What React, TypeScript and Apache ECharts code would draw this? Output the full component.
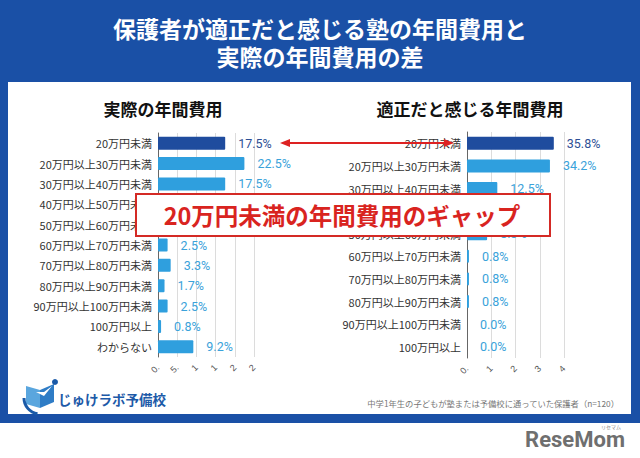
import React, { useEffect, useRef } from "react";
import * as echarts from "echarts";

const categoriesActual = [
  "20万円未満",
  "20万円以上30万円未満",
  "30万円以上40万円未満",
  "40万円以上50万円未満",
  "50万円以上60万円未満",
  "60万円以上70万円未満",
  "70万円以上80万円未満",
  "80万円以上90万円未満",
  "90万円以上100万円未満",
  "100万円以上",
  "わからない",
];
const valuesActual = [17.5, 22.5, 17.5, 12.5, 10.0, 2.5, 3.3, 1.7, 2.5, 0.8, 9.2];

const categoriesIdeal = [
  "20万円未満",
  "20万円以上30万円未満",
  "30万円以上40万円未満",
  "40万円以上50万円未満",
  "50万円以上60万円未満",
  "60万円以上70万円未満",
  "70万円以上80万円未満",
  "80万円以上90万円未満",
  "90万円以上100万円未満",
  "100万円以上",
];
const valuesIdeal = [35.8, 34.2, 12.5, 6.7, 8.3, 0.8, 0.8, 0.8, 0.0, 0.0];

const tickLabelsActual = ["0.", "5.", "1", "1", "2", "2"];
const tickLabelsIdeal = ["0.", "1", "2", "3", "4"];

const titleLines = ["保護者が適正だと感じる塾の年間費用と", "実際の年間費用の差"];
const subtitleActual = "実際の年間費用";
const subtitleIdeal = "適正だと感じる年間費用";
const bannerText = "20万円未満の年間費用のギャップ";
const footnote = "中学1年生の子どもが塾または予備校に通っていた保護者（n=120）";
const logoText = "じゅけラボ予備校";

const JP = '"Noto Sans CJK JP", "Noto Sans", sans-serif';
const NUM = 'Roboto, "Noto Sans", sans-serif';
const DARK = "#1f4c9e";
const LIGHT = "#2f9fde";
const DARK_LABEL = "#2d4f95";
const LIGHT_LABEL = "#3aa2da";
const RED = "#dd2222";
const FRAME = "#1a50a6";

function barData(values: number[]) {
  return values.map((v, i) => ({
    value: v,
    itemStyle: { color: i === 0 ? DARK : LIGHT },
    label: { color: i === 0 ? DARK_LABEL : LIGHT_LABEL },
  }));
}

export default function App() {
  const ref = useRef<HTMLDivElement>(null);
  useEffect(() => {
    document.body.style.margin = "0";
    if (!ref.current) return;
    const chart = echarts.init(ref.current, null, { renderer: "svg" });
    const yAxisCommon = {
      type: "category" as const,
      inverse: true,
      axisTick: { show: false },
      axisLine: { show: true, lineStyle: { color: "#666", width: 1 } },
      axisLabel: { color: "#333", fontSize: 11, fontFamily: JP, margin: 6 },
    };
    const xAxisCommon = {
      type: "value" as const,
      min: 0,
      axisLine: { show: false },
      axisTick: { show: false },
      splitLine: { show: true, lineStyle: { color: "#dcdcdc", width: 1 } },
    };
    const labelCommon = {
      show: true,
      position: "right" as const,
      distance: 13,
      fontSize: 12.5,
      fontFamily: NUM,
      formatter: (p: any) => Number(p.value).toFixed(1) + "%",
    };
    const option: any = {
      animation: false,
      backgroundColor: "#ffffff",
      grid: [
        { left: 158, top: 133, width: 96, height: 224 },
        { left: 467, top: 132, width: 97, height: 226 },
      ],
      xAxis: [
        {
          ...xAxisCommon,
          gridIndex: 0,
          max: 25,
          interval: 5,
          axisLabel: {
            rotate: 45,
            fontSize: 9,
            color: "#555",
            margin: 9,
            formatter: (_v: number, i: number) => tickLabelsActual[i] ?? "",
          },
        },
        {
          ...xAxisCommon,
          gridIndex: 1,
          max: 40,
          interval: 10,
          axisLabel: {
            rotate: 45,
            fontSize: 9,
            color: "#555",
            margin: 9,
            formatter: (_v: number, i: number) => tickLabelsIdeal[i] ?? "",
          },
        },
      ],
      yAxis: [
        { ...yAxisCommon, gridIndex: 0, data: categoriesActual },
        { ...yAxisCommon, gridIndex: 1, data: categoriesIdeal },
      ],
      series: [
        {
          type: "bar",
          xAxisIndex: 0,
          yAxisIndex: 0,
          barWidth: 13,
          data: barData(valuesActual),
          label: labelCommon,
          itemStyle: { borderRadius: 1 },
        },
        {
          type: "bar",
          xAxisIndex: 1,
          yAxisIndex: 1,
          barWidth: 13,
          data: barData(valuesIdeal),
          label: labelCommon,
          itemStyle: { borderRadius: 1 },
        },
      ],
      graphic: [
        { type: "rect", z: -10, shape: { x: 0, y: 0, width: 640, height: 423 }, style: { fill: FRAME } },
        { type: "rect", z: -9, shape: { x: 8, y: 82, width: 623, height: 332 }, style: { fill: "#ffffff" } },
        {
          type: "text", x: 320, y: 28, z: 10,
          style: { text: titleLines[0], fill: "#ffffff", font: `bold 23px ${JP}`, textAlign: "center", textVerticalAlign: "middle" },
        },
        {
          type: "text", x: 320, y: 56, z: 10,
          style: { text: titleLines[1], fill: "#ffffff", font: `bold 23px ${JP}`, textAlign: "center", textVerticalAlign: "middle" },
        },
        {
          type: "text", x: 163, y: 108, z: 10,
          style: { text: subtitleActual, fill: "#111", font: `bold 17px ${JP}`, textAlign: "center", textVerticalAlign: "middle" },
        },
        {
          type: "text", x: 470, y: 108, z: 10,
          style: { text: subtitleIdeal, fill: "#111", font: `bold 17px ${JP}`, textAlign: "center", textVerticalAlign: "middle" },
        },
        // arrow
        { type: "line", z: 50, shape: { x1: 286, y1: 143, x2: 448, y2: 143 }, style: { stroke: RED, lineWidth: 2 } },
        { type: "polygon", z: 50, shape: { points: [[280, 143], [290, 139], [290, 147]] }, style: { fill: RED } },
        { type: "polygon", z: 50, shape: { points: [[454, 143], [444, 139], [444, 147]] }, style: { fill: RED } },
        // banner
        {
          type: "rect", z: 60, shape: { x: 136, y: 194, width: 414, height: 42 },
          style: { fill: "#ffffff", stroke: "#d42a25", lineWidth: 2 },
        },
        {
          type: "text", x: 342, y: 215, z: 61,
          style: { text: bannerText, fill: "#d9241f", font: `bold 23.5px ${JP}`, textAlign: "center", textVerticalAlign: "middle" },
        },
        // logo
        { type: "polygon", z: 10, shape: { points: [[26, 386], [40, 390], [40, 408], [26, 404]] }, style: { fill: "#5aa6de" } },
        { type: "polygon", z: 10, shape: { points: [[40, 390], [54, 384], [54, 402], [40, 408]] }, style: { fill: "#2e7cc6" } },
        { type: "polygon", z: 10, shape: { points: [[36, 392], [44, 396], [52, 386], [44, 392]] }, style: { fill: "#ffffff" } },
        { type: "arc", z: 10, shape: { cx: 40, cy: 398, r: 16, startAngle: Math.PI * 0.55, endAngle: Math.PI * 1.0 }, style: { stroke: "#1a5aa8", lineWidth: 3, fill: "none" } },
        { type: "circle", z: 10, shape: { cx: 55, cy: 382, r: 3 }, style: { fill: "#1a5aa8" } },
        {
          type: "text", x: 58, y: 399, z: 10,
          style: { text: logoText, fill: "#1d5aa8", font: `bold 13.5px ${JP}`, textAlign: "left", textVerticalAlign: "middle" },
        },
        {
          type: "text", x: 619, y: 403, z: 10,
          style: { text: footnote, fill: "#777", font: `8.3px ${JP}`, textAlign: "right", textVerticalAlign: "middle" },
        },
        // watermark
        {
          type: "text", x: 625, y: 439, z: 10,
          style: { text: "ReseMom", fill: "#6f6f6f", font: `bold 22px ${NUM}`, textAlign: "right", textVerticalAlign: "middle" },
        },
        {
          type: "text", x: 611, y: 426, z: 10,
          style: { text: "リセマム", fill: "#888", font: `5px ${JP}`, textAlign: "center", textVerticalAlign: "middle" },
        },
      ],
    };
    chart.setOption(option);
    return () => chart.dispose();
  }, []);
  return <div ref={ref} style={{ width: 640, height: 458 }} />;
}
